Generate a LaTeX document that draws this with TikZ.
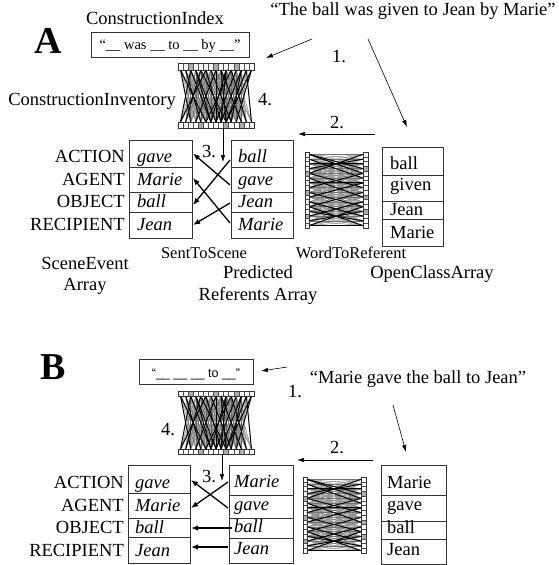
\documentclass[tikz,border=0pt]{standalone}
\usepackage{fontspec}
\setmainfont{Liberation Serif}
\newfontfamily\sansfam{Liberation Sans}
\usetikzlibrary{arrows.meta,calc}

\newcommand\cellnode[5]{%
  \pgfmathsetmacro\mycw{#3-#2}\pgfmathsetmacro\mych{#5-#4}%
  \pgfmathsetmacro\mycx{(#2+#3)/2}\pgfmathsetmacro\mycy{(#4+#5)/2}%
  \node[cellbox, minimum width=\mycw pt, minimum height=\mych pt] (#1) at (\mycx,\mycy) {};}

% vertical mesh: name, x1, x2, top bar y1, y2, bottom bar y1, y2
\newcommand\vmesh[7]{%
  \pgfmathsetmacro\mw{(#3-#2)/15}%
  \foreach \i in {0,...,14}{\foreach \j in {0,...,14}{%
     \pgfmathtruncatemacro\dd{abs(\i-\j)}%
     \pgfmathtruncatemacro\ee{min(\i+\j,28-\i-\j)}%
     \ifnum\dd<6 \ifnum\ee>2 \draw[meshline] ({#2+(\i+0.5)*\mw},#5) -- ({#2+(\j+0.5)*\mw},#6);\fi\fi}}%
  \foreach \i/\j in {1/4,2/6,4/1,5/8,6/10,7/3,8/12,9/6,10/13,11/7,12/10,13/14,3/6,0/2,14/11,8/9,9/8,
                     0/5,5/0,3/7,10/5,14/9,12/8,4/9,7/7,2/0,13/9}{%
     \draw[meshbold] ({#2+(\i+0.5)*\mw},#5) -- ({#2+(\j+0.5)*\mw},#6);}%
  \foreach \k in {2,7,11}{\fill[gray!65] ({#2+\k*\mw},#4) rectangle ({#2+(\k+1)*\mw},#5);}%
  \foreach \k in {4,9,12}{\fill[gray!65] ({#2+\k*\mw},#6) rectangle ({#2+(\k+1)*\mw},#7);}%
  \foreach \k in {1,...,14}{%
     \draw[barline] ({#2+\k*\mw},#4) -- ({#2+\k*\mw},#5);
     \draw[barline] ({#2+\k*\mw},#6) -- ({#2+\k*\mw},#7);}%
  \node[barbox, minimum width={#3-#2}, minimum height={#5-#4}] (#1t) at ({(#2+#3)/2},{(#4+#5)/2}) {};%
  \node[barbox, minimum width={#3-#2}, minimum height={#7-#6}] (#1b) at ({(#2+#3)/2},{(#6+#7)/2}) {};%
}

% horizontal mesh: name, left bar x1, x2, right bar x1, x2, y1, y2
\newcommand\hmesh[7]{%
  \pgfmathsetmacro\mh{(#7-#6)/16}%
  \foreach \i in {0,...,15}{\foreach \j in {0,...,15}{%
     \pgfmathtruncatemacro\dd{abs(\i-\j)}%
     \ifnum\dd<5 \draw[meshlinel] (#3,{#6+(\i+0.5)*\mh}) -- (#4,{#6+(\j+0.5)*\mh});\fi}}%
  \foreach \i/\j in {0/3,1/5,3/1,4/7,5/9,7/4,8/11,9/6,10/13,11/8,12/14,13/10,14/12,15/15,6/6,2/2,
                     0/4,4/0,15/11,11/15}{%
     \draw[meshbold] (#3,{#6+(\i+0.5)*\mh}) -- (#4,{#6+(\j+0.5)*\mh});}%
  \foreach \k in {4,8,13}{\fill[gray!65] (#2,{#6+\k*\mh}) rectangle (#3,{#6+(\k+1)*\mh});}%
  \foreach \k in {3,9,12}{\fill[gray!65] (#4,{#6+\k*\mh}) rectangle (#5,{#6+(\k+1)*\mh});}%
  \foreach \k in {1,...,15}{%
     \draw[barline] (#2,{#6+\k*\mh}) -- (#3,{#6+\k*\mh});
     \draw[barline] (#4,{#6+\k*\mh}) -- (#5,{#6+\k*\mh});}%
  \node[barbox, minimum width={#3-#2}, minimum height={#7-#6}] (#1l) at ({(#2+#3)/2},{(#6+#7)/2}) {};%
  \node[barbox, minimum width={#5-#4}, minimum height={#7-#6}] (#1r) at ({(#4+#5)/2},{(#6+#7)/2}) {};%
}

\begin{document}
\begin{tikzpicture}[x=1pt,y=-1pt,
  lbl/.style={font=\fontsize{18.5}{20}\selectfont, inner sep=0pt, anchor=base},
  lblsm/.style={lbl, font=\fontsize{16.5}{18}\selectfont},
  big/.style={lbl, font=\fontsize{38}{40}\selectfont\bfseries},
  slot/.style={lbl, anchor=base east},
  val/.style={lbl, font=\fontsize{18.5}{20}\selectfont\itshape, anchor=base west},
  ocv/.style={lbl, anchor=base west},
  cellbox/.style={draw=black!80, line width=0.8pt, inner sep=0pt, outer sep=0pt},
  meshline/.style={black!60, line width=0.35pt},
  meshlinel/.style={black!55, line width=0.35pt},
  meshbold/.style={black, line width=1pt},
  barbox/.style={draw=black!80, line width=0.5pt, inner sep=0pt, outer sep=0pt},
  barline/.style={black!70, line width=0.35pt},
  thinarr/.style={-{Latex[length=7pt,width=4.5pt]}, line width=0.6pt},
  xarr/.style={-{Latex[length=7pt,width=5.5pt]}, line width=1.3pt}]
\useasboundingbox (0,0) rectangle (559,565);
\fill[white] (0,0) rectangle (559,565);

%%%%%%%%%%%%%%%% Panel A
\node[big] (lettA) at (48,53) {A};
\node[lbl] (ciLabA) at (155,24) {ConstructionIndex};
\node[lbl] (quoteA) at (413,15) {“The ball was given to Jean by Marie”};
\cellnode{ciA}{91}{249}{32}{57}
\node[lbl, font=\fontsize{14.5}{16}\selectfont] (ciTxtA) at (170,49.5) {“\_\_ was \_\_ to \_\_ by \_\_”};

\vmesh{invA}{178}{254}{63}{70}{122}{128}
\node[lbl, anchor=base east] (invLabA) at (176,105) {ConstructionInventory};
\node[lbl, anchor=base west] (fourA) at (258,105) {4.};

\node[lbl] (oneA) at (339,62) {1.};
\node[lbl] (twoA) at (337,128) {2.};
\node[lbl] (threeA) at (209,157) {3.};

% SceneEvent array A
\cellnode{lA1}{129}{192}{140}{167}
\cellnode{lA2}{129}{192}{167}{192}
\cellnode{lA3}{129}{192}{192}{212}
\cellnode{lA4}{129}{192}{212}{238}
\node[slot] (sA1) at (125,162) {ACTION};
\node[slot] (sA2) at (125,185) {AGENT};
\node[slot] (sA3) at (125,207) {OBJECT};
\node[slot] (sA4) at (125,230) {RECIPIENT};
\node[val] (vA1) at (137,162) {gave};
\node[val] (vA2) at (137,185) {Marie};
\node[val] (vA3) at (137,207) {ball};
\node[val] (vA4) at (137,230) {Jean};

% Predicted referents A
\cellnode{rA1}{231}{293}{140}{167}
\cellnode{rA2}{231}{293}{167}{192}
\cellnode{rA3}{231}{293}{192}{212}
\cellnode{rA4}{231}{293}{212}{238}
\node[val] (pA1) at (238,162) {ball};
\node[val] (pA2) at (238,185) {gave};
\node[val] (pA3) at (238,207) {Jean};
\node[val] (pA4) at (238,230) {Marie};

% word to referent mesh A
\hmesh{wrA}{305}{309}{363}{368}{152}{228}

% open class array A
\cellnode{oA1}{382}{443}{147}{175}
\cellnode{oA2}{382}{443}{175}{201}
\cellnode{oA3}{382}{443}{201}{219}
\cellnode{oA4}{382}{443}{219}{246}
\node[ocv] (wA1) at (390,169) {ball};
\node[ocv] (wA2) at (390,190) {given};
\node[ocv] (wA3) at (390,215) {Jean};
\node[ocv] (wA4) at (390,238) {Marie};

% captions A
\node[lbl] (seA1) at (85,269) {SceneEvent};
\node[lbl] (seA2) at (85,290) {Array};
\node[lblsm] (stsA) at (204,258) {SentToScene};
\node[lbl] (prA1) at (258,278) {Predicted};
\node[lbl] (prA2) at (258,300) {Referents Array};
\node[lblsm] (wtrA) at (351,258) {WordToReferent};
\node[lbl] (ocaA) at (432,278) {OpenClassArray};

% arrows A
\coordinate (a1s) at (312,39);  \coordinate (a1e) at (266,58);
\coordinate (a2s) at (368,39);  \coordinate (a2e) at (407,127);
\coordinate (a3s) at (375,134); \coordinate (a3e) at (298,134);
\coordinate (a4e) at (223,162);
\draw[thinarr] (a1s) -- (a1e);
\draw[thinarr] (a2s) -- (a2e);
\draw[thinarr] (a3s) -- (a3e);
\draw[thinarr] (invAb.south -| a4e) -- (a4e);
\draw[xarr] ($(rA1.west)+(-1,6.5)$) -- ($(lA3.east)+(1,3)$);
\draw[xarr] ($(rA2.west)+(-1,5.5)$) -- ($(lA1.east)+(1,0)$);
\draw[xarr] ($(rA3.west)+(-1,1)$) -- ($(lA4.east)+(1,0)$);
\draw[xarr] ($(rA4.west)+(-1,-2)$) -- ($(lA2.east)+(1,-1.5)$);

%%%%%%%%%%%%%%%% Panel B
\node[big] (lettB) at (53,379) {B};
\cellnode{ciB}{139}{253}{359}{384}
\node[lbl, font=\fontsize{12.5}{14}\sansfam] (ciTxtB) at (196,377) {“\_\_ \_\_ \_\_ to \_\_”};
\node[lbl] (quoteB) at (418,383) {“Marie gave the ball to Jean”};
\node[lbl] (oneB) at (295,397) {1.};
\node[lbl] (twoB) at (337,453) {2.};
\node[lbl] (fourB) at (168,435) {4.};
\node[lbl] (threeB) at (209,482) {3.};

\vmesh{invB}{178}{254}{391}{396}{449}{454}

\cellnode{lB1}{128}{190}{465}{493}
\cellnode{lB2}{128}{190}{493}{518}
\cellnode{lB3}{128}{190}{518}{537}
\cellnode{lB4}{128}{190}{537}{563}
\node[slot] (sB1) at (124,488) {ACTION};
\node[slot] (sB2) at (124,511) {AGENT};
\node[slot] (sB3) at (124,533) {OBJECT};
\node[slot] (sB4) at (124,556) {RECIPIENT};
\node[val] (vB1) at (135,488) {gave};
\node[val] (vB2) at (135,511) {Marie};
\node[val] (vB3) at (135,533) {ball};
\node[val] (vB4) at (135,556) {Jean};

\cellnode{rB1}{229}{293}{465}{495}
\cellnode{rB2}{229}{293}{495}{518}
\cellnode{rB3}{229}{293}{518}{538}
\cellnode{rB4}{229}{293}{538}{563}
\node[val] (pB1) at (234,487) {Marie};
\node[val] (pB2) at (234,510) {gave};
\node[val] (pB3) at (234,532) {ball};
\node[val] (pB4) at (234,554) {Jean};

\hmesh{wrB}{303}{307}{361}{366}{477}{553}

\cellnode{oB1}{381}{446}{465}{495}
\cellnode{oB2}{381}{446}{495}{521}
\cellnode{oB3}{381}{446}{521}{539}
\cellnode{oB4}{381}{446}{539}{564}
\node[ocv] (wB1) at (387,488) {Marie};
\node[ocv] (wB2) at (387,510) {gave};
\node[ocv] (wB3) at (387,533) {ball};
\node[ocv] (wB4) at (387,555) {Jean};

\coordinate (b1s) at (287,367);  \coordinate (b1e) at (261,371);
\coordinate (b2s) at (393,405);  \coordinate (b2e) at (406,452);
\coordinate (b3s) at (373,460);  \coordinate (b3e) at (297,460);
\coordinate (b4e) at (222,481);
\draw[thinarr] (b1s) -- (b1e);
\draw[thinarr] (b2s) -- (b2e);
\draw[thinarr] (b3s) -- (b3e);
\draw[thinarr] (invBb.south -| b4e) -- (b4e);
\draw[xarr] ($(rB1.west)+(-1,2)$) -- ($(lB2.east)+(1,2.5)$);
\draw[xarr] ($(rB2.west)+(-1,1.5)$) -- ($(lB1.east)+(1,1)$);
\draw[xarr] ($(rB3.west)+(3,0)$) -- ($(lB3.east)+(1,0.5)$);
\draw[xarr] ($(rB4.west)+(-1,-3.5)$) -- ($(lB4.east)+(1,-3)$);
\end{tikzpicture}
\end{document}
